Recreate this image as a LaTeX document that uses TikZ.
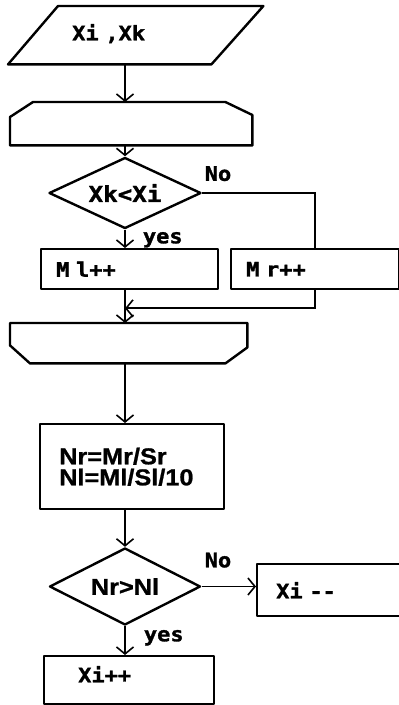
\documentclass[tikz,border=0pt]{standalone}
\usepackage{fontspec}
\usepackage{tikz}
\usetikzlibrary{arrows.meta,positioning,shapes.geometric,calc}
\newfontfamily\pixfont{DejaVu Sans Mono}[FakeStretch=1.1,FakeBold=1.5]
\newfontfamily\formfont{Liberation Sans}[FakeStretch=1.1,FakeBold=1]

\begin{document}
\begin{tikzpicture}[
  x=1pt,y=-1pt,
  every node/.style={font=\pixfont\bfseries\fontsize{20}{22}\selectfont},
  outline/.style={line width=2.4pt,line join=round},
  box/.style={outline,draw,rectangle,anchor=north west,inner ysep=0pt,align=left},
  hidden/.style={rectangle,anchor=north west,inner ysep=0pt,align=left},
  cond/.style={outline,draw,diamond,inner sep=0pt,shape aspect=2},
  flow/.style={-{Straight Barb[length=7pt,width=17pt,line width=1.6pt]},line width=1.8pt},
  wire/.style={line width=1.8pt},
  lbl/.style={inner sep=0pt},
  ]
  \useasboundingbox (0,0) rectangle (399,705);

  %─── Input: Xi, Xk ─────────────────────────────────────────────────────────
  \node[hidden,minimum width=255pt,minimum height=58pt,
        inner xsep=64pt,text width=127pt,text depth=6pt]
    (input) at (8,6) {Xi ,Xk};
  \draw[outline]
    ([xshift=50pt]input.north west) -- (input.north east) --
    ([xshift=-52pt]input.south east) -- (input.south west) -- cycle;

  %─── Loop start ────────────────────────────────────────────────────────────
  \node[hidden,minimum width=242pt,minimum height=43pt]
    (scan) at (10,102) {};
  \draw[outline]
    ([yshift=-15pt]scan.north west) -- ([xshift=23pt]scan.north west) --
    ([xshift=-27pt]scan.north east) -- ([yshift=-13pt]scan.north east) --
    (scan.south east) -- (scan.south west) -- cycle;

  %─── Compare Xk < Xi ───────────────────────────────────────────────────────
  \node[cond,minimum width=152pt,minimum height=71pt,
        font=\pixfont\bfseries\fontsize{22}{24}\selectfont]
    (test) at (125,193) {Xk<Xi};

  \node[box,minimum width=177pt,minimum height=40pt,
        inner xsep=15pt,text width=147pt]
    (incl) at (40,248) {M l++};

  \node[box,minimum width=168pt,minimum height=40pt,
        inner xsep=15pt,text width=138pt]
    (incr) at (230,248) {M r++};

  %─── Loop end ──────────────────────────────────────────────────────────────
  \node[hidden,minimum width=237pt,minimum height=40pt]
    (scanend) at (10,323) {};
  \draw[outline]
    (scanend.north west) -- (scanend.north east) --
    ([yshift=16pt]scanend.south east) -- ([xshift=-22pt]scanend.south east) --
    ([xshift=20pt]scanend.south west) -- ([yshift=18pt]scanend.south west) --
    cycle;

  %─── Ratios ────────────────────────────────────────────────────────────────
  \node[box,minimum width=184pt,minimum height=85pt,
        inner xsep=19pt,text width=146pt,
        font=\formfont\bfseries\fontsize{23}{21}\selectfont]
    (ratio) at (39,423) {Nr=Mr/Sr\\Nl=Ml/Sl/10};

  %─── Compare Nr > Nl ───────────────────────────────────────────────────────
  \node[cond,minimum width=151pt,minimum height=77pt,
        font=\formfont\bfseries\fontsize{23}{26}\selectfont]
    (cmp) at (125,586.5) {Nr>Nl};

  \node[box,minimum width=170pt,minimum height=52pt,
        inner xsep=19pt,text width=132pt]
    (dec) at (256,563) {Xi --};

  \node[box,minimum width=170pt,minimum height=48pt,
        inner xsep=34pt,text width=102pt,text depth=12pt]
    (inc) at (43,655) {Xi++};

  %─── Connectors ────────────────────────────────────────────────────────────
  \draw[flow] (input.south -| test.north) -- (scan.north -| test.north);
  \draw[flow] (scan.south -| test.north) -- (test.north);
  \draw[flow] (test.south) --
    node[lbl,right=17pt,pos=0.55] {yes}
    (incl.north -| test.south);
  \draw[wire] (test.east) --
    node[lbl,pos=0.14,above=11pt] {No}
    (test.east -| incr.north) -- (incr.north);

  % merge of both branches
  \draw[flow] (incl.south -| test.south) -- (scanend.north -| test.south);
  \draw[flow] (incr.south) |-
    ($(incl.south -| test.south)!0.55!(scanend.north -| test.south)$);

  \draw[flow] (scanend.south -| test.south) -- (ratio.north -| test.south);
  \draw[flow] (ratio.south -| cmp.north) -- (cmp.north);
  \draw[flow] (cmp.east) --
    node[lbl,pos=0.3,above=18pt] {No}
    (cmp.east -| dec.west);
  \draw[flow] (cmp.south) --
    node[lbl,right=18pt,pos=0.4] {yes}
    (cmp.south |- inc.north);

\end{tikzpicture}
\end{document}
